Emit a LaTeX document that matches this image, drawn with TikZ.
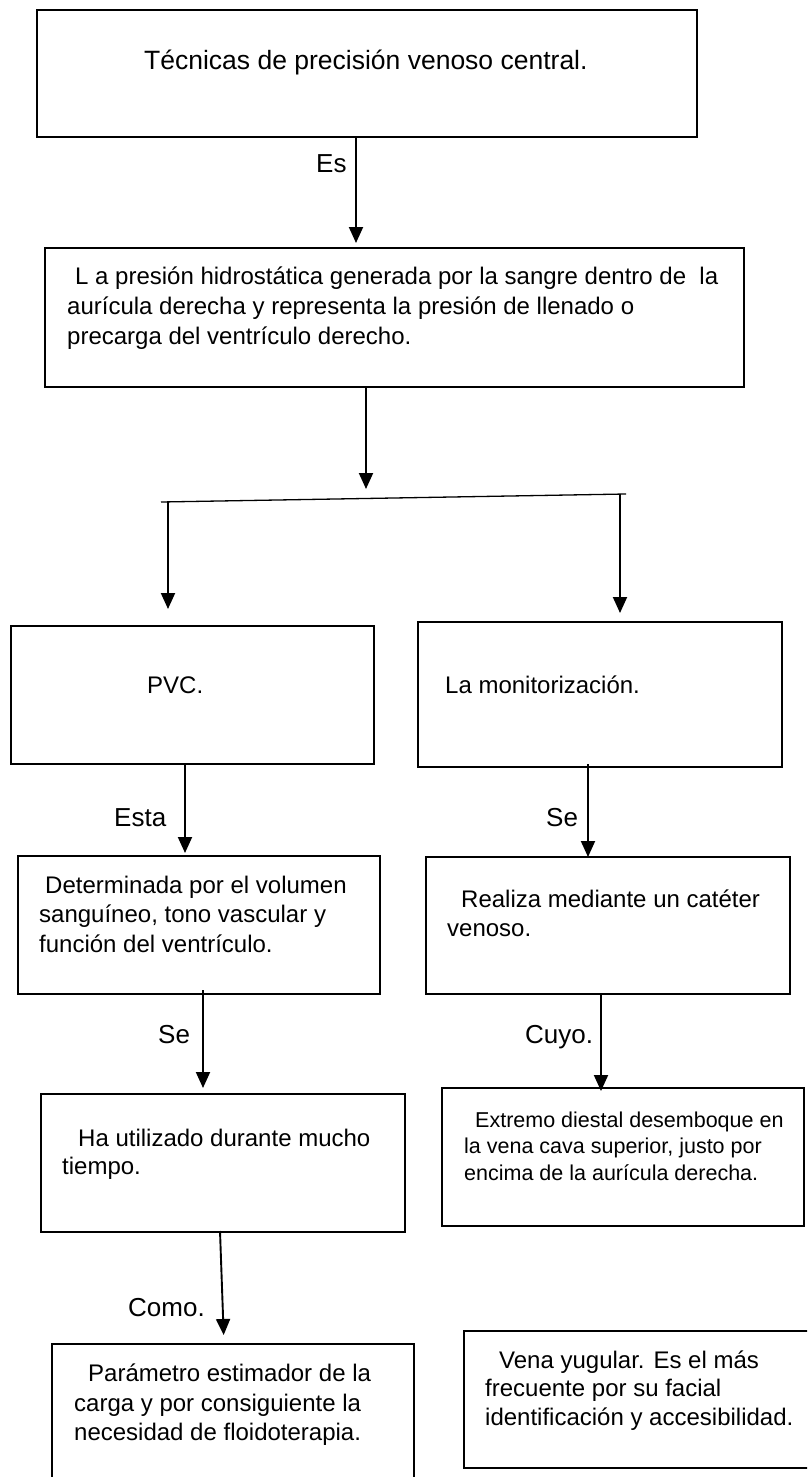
\documentclass[tikz,border=0pt]{standalone}
\usepackage{fontspec}
\setmainfont{Liberation Sans}
\usetikzlibrary{arrows.meta,calc}
\begin{document}
\begin{tikzpicture}[x=1pt,y=-1pt,
  box/.style={draw, line width=2.2pt, inner sep=0pt, outer sep=0pt, anchor=north west},
  arr/.style={line width=1.9pt, -{Triangle[length=16pt,width=14pt]}},
  splitline/.style={line width=1.3pt},
  txt/.style={anchor=base west, inner sep=0pt, font=\fontsize{24}{29}\selectfont},
  ttl/.style={anchor=base west, inner sep=0pt, font=\fontsize{26.5}{31}\selectfont},
  lbl/.style={anchor=base west, inner sep=0pt, font=\fontsize{26}{31}\selectfont},
  small/.style={anchor=base west, inner sep=0pt, font=\fontsize{21.5}{26}\selectfont}
]
\fill[white] (0,0) rectangle (807,1477);
\useasboundingbox (0,0) rectangle (807,1477);
\clip (0,0) rectangle (807,1477);

% boxes
\node[box, minimum width=660pt, minimum height=127pt] (b1) at (37,10) {};
\node[box, minimum width=699pt, minimum height=139pt] (b2) at (45,248) {};
\node[box, minimum width=363pt, minimum height=138pt] (pvc) at (11,626) {};
\node[box, minimum width=364pt, minimum height=145pt] (mon) at (418,622) {};
\node[box, minimum width=362pt, minimum height=138pt] (det) at (18,856) {};
\node[box, minimum width=364pt, minimum height=137pt] (rea) at (426,857) {};
\node[box, minimum width=364pt, minimum height=138pt] (ha) at (41,1094) {};
\node[box, minimum width=362pt, minimum height=138pt] (ext) at (442,1088) {};
\node[box, minimum width=362pt, minimum height=160pt] (par) at (52,1344) {};
\node[box, minimum width=380pt, minimum height=137pt] (vena) at (464,1331) {};

% texts
\node[ttl] (t1) at (144,70) {Técnicas de precisión venoso central.};
\node[txt] (t2a) at (75,284) {L a presión hidrostática generada por la sangre dentro de\ \ la};
\node[txt] (t2b) at (67,314) {aurícula derecha y representa la presión de llenado o};
\node[txt] (t2c) at (67,344) {precarga del ventrículo derecho.};
\node[txt] (t3) at (147,693) {PVC.};
\node[txt] (t4) at (445,693) {La monitorización.};
\node[txt] (t5a) at (45,893) {Determinada por el volumen};
\node[txt] (t5b) at (39,922.5) {sanguíneo, tono vascular y};
\node[txt] (t5c) at (39,952) {función del ventrículo.};
\node[txt] (t6a) at (461,907) {Realiza mediante un catéter};
\node[txt] (t6b) at (447,936) {venoso.};
\node[txt] (t7a) at (78,1146) {Ha utilizado durante mucho};
\node[txt] (t7b) at (62,1174) {tiempo.};
\node[small] (t8a) at (475,1127) {Extremo diestal desemboque en};
\node[small] (t8b) at (464,1153.5) {la vena cava superior, justo por};
\node[small] (t8c) at (464,1180) {encima de la aurícula derecha.};
\node[txt] (t9a) at (88,1381) {Parámetro estimador de la};
\node[txt] (t9b) at (74,1411) {carga y por consiguiente la};
\node[txt] (t9c) at (74,1440) {necesidad de floidoterapia.};
\node[txt] (t10a) at (499,1368) {Vena yugular. Es el más};
\node[txt] (t10b) at (485,1396) {frecuente por su facial};
\node[txt] (t10c) at (485,1425) {identificación y accesibilidad.};

% labels
\node[lbl] (l1) at (316,172) {Es};
\node[lbl] (l2) at (114,826) {Esta};
\node[lbl] (l3) at (546,826) {Se};
\node[lbl] (l4) at (158,1043) {Se};
\node[lbl] (l5) at (525,1043) {Cuyo.};
\node[lbl] (l6) at (128,1316) {Como.};

% splitter
\coordinate (sL) at (161,502);
\coordinate (sR) at (626,494);
\coordinate (dL) at (168,501.8);
\coordinate (dR) at (620,493.5);
\draw[splitline] (sL) -- (sR);

% connectors
\draw[arr, shorten >=5pt] (b1.south -| 356,0) -- (b2.north -| 356,0);
\draw[arr] (b2.south -| 366,0) -- (366,489);
\draw[arr, shorten >=17pt] (dL) -- (pvc.north -| dL);
\draw[arr, shorten >=9pt] (dR) -- (mon.north -| dR);
\draw[arr, shorten >=3pt] (pvc.south -| 185,0) -- (det.north -| 185,0);
\draw[arr] ($(mon.south -| 588,0)+(0,-3)$) -- (rea.north -| 588,0);
\draw[arr, shorten >=6pt] ($(det.south -| 203,0)+(0,-4)$) -- (ha.north -| 203,0);
\draw[arr, shorten >=-3pt] (rea.south -| 601,0) -- (ext.north -| 601,0);
\draw[arr, shorten >=9pt] ($(ha.south -| 220,0)+(0,-1)$) -- (par.north -| 224,0);
\end{tikzpicture}
\end{document}
